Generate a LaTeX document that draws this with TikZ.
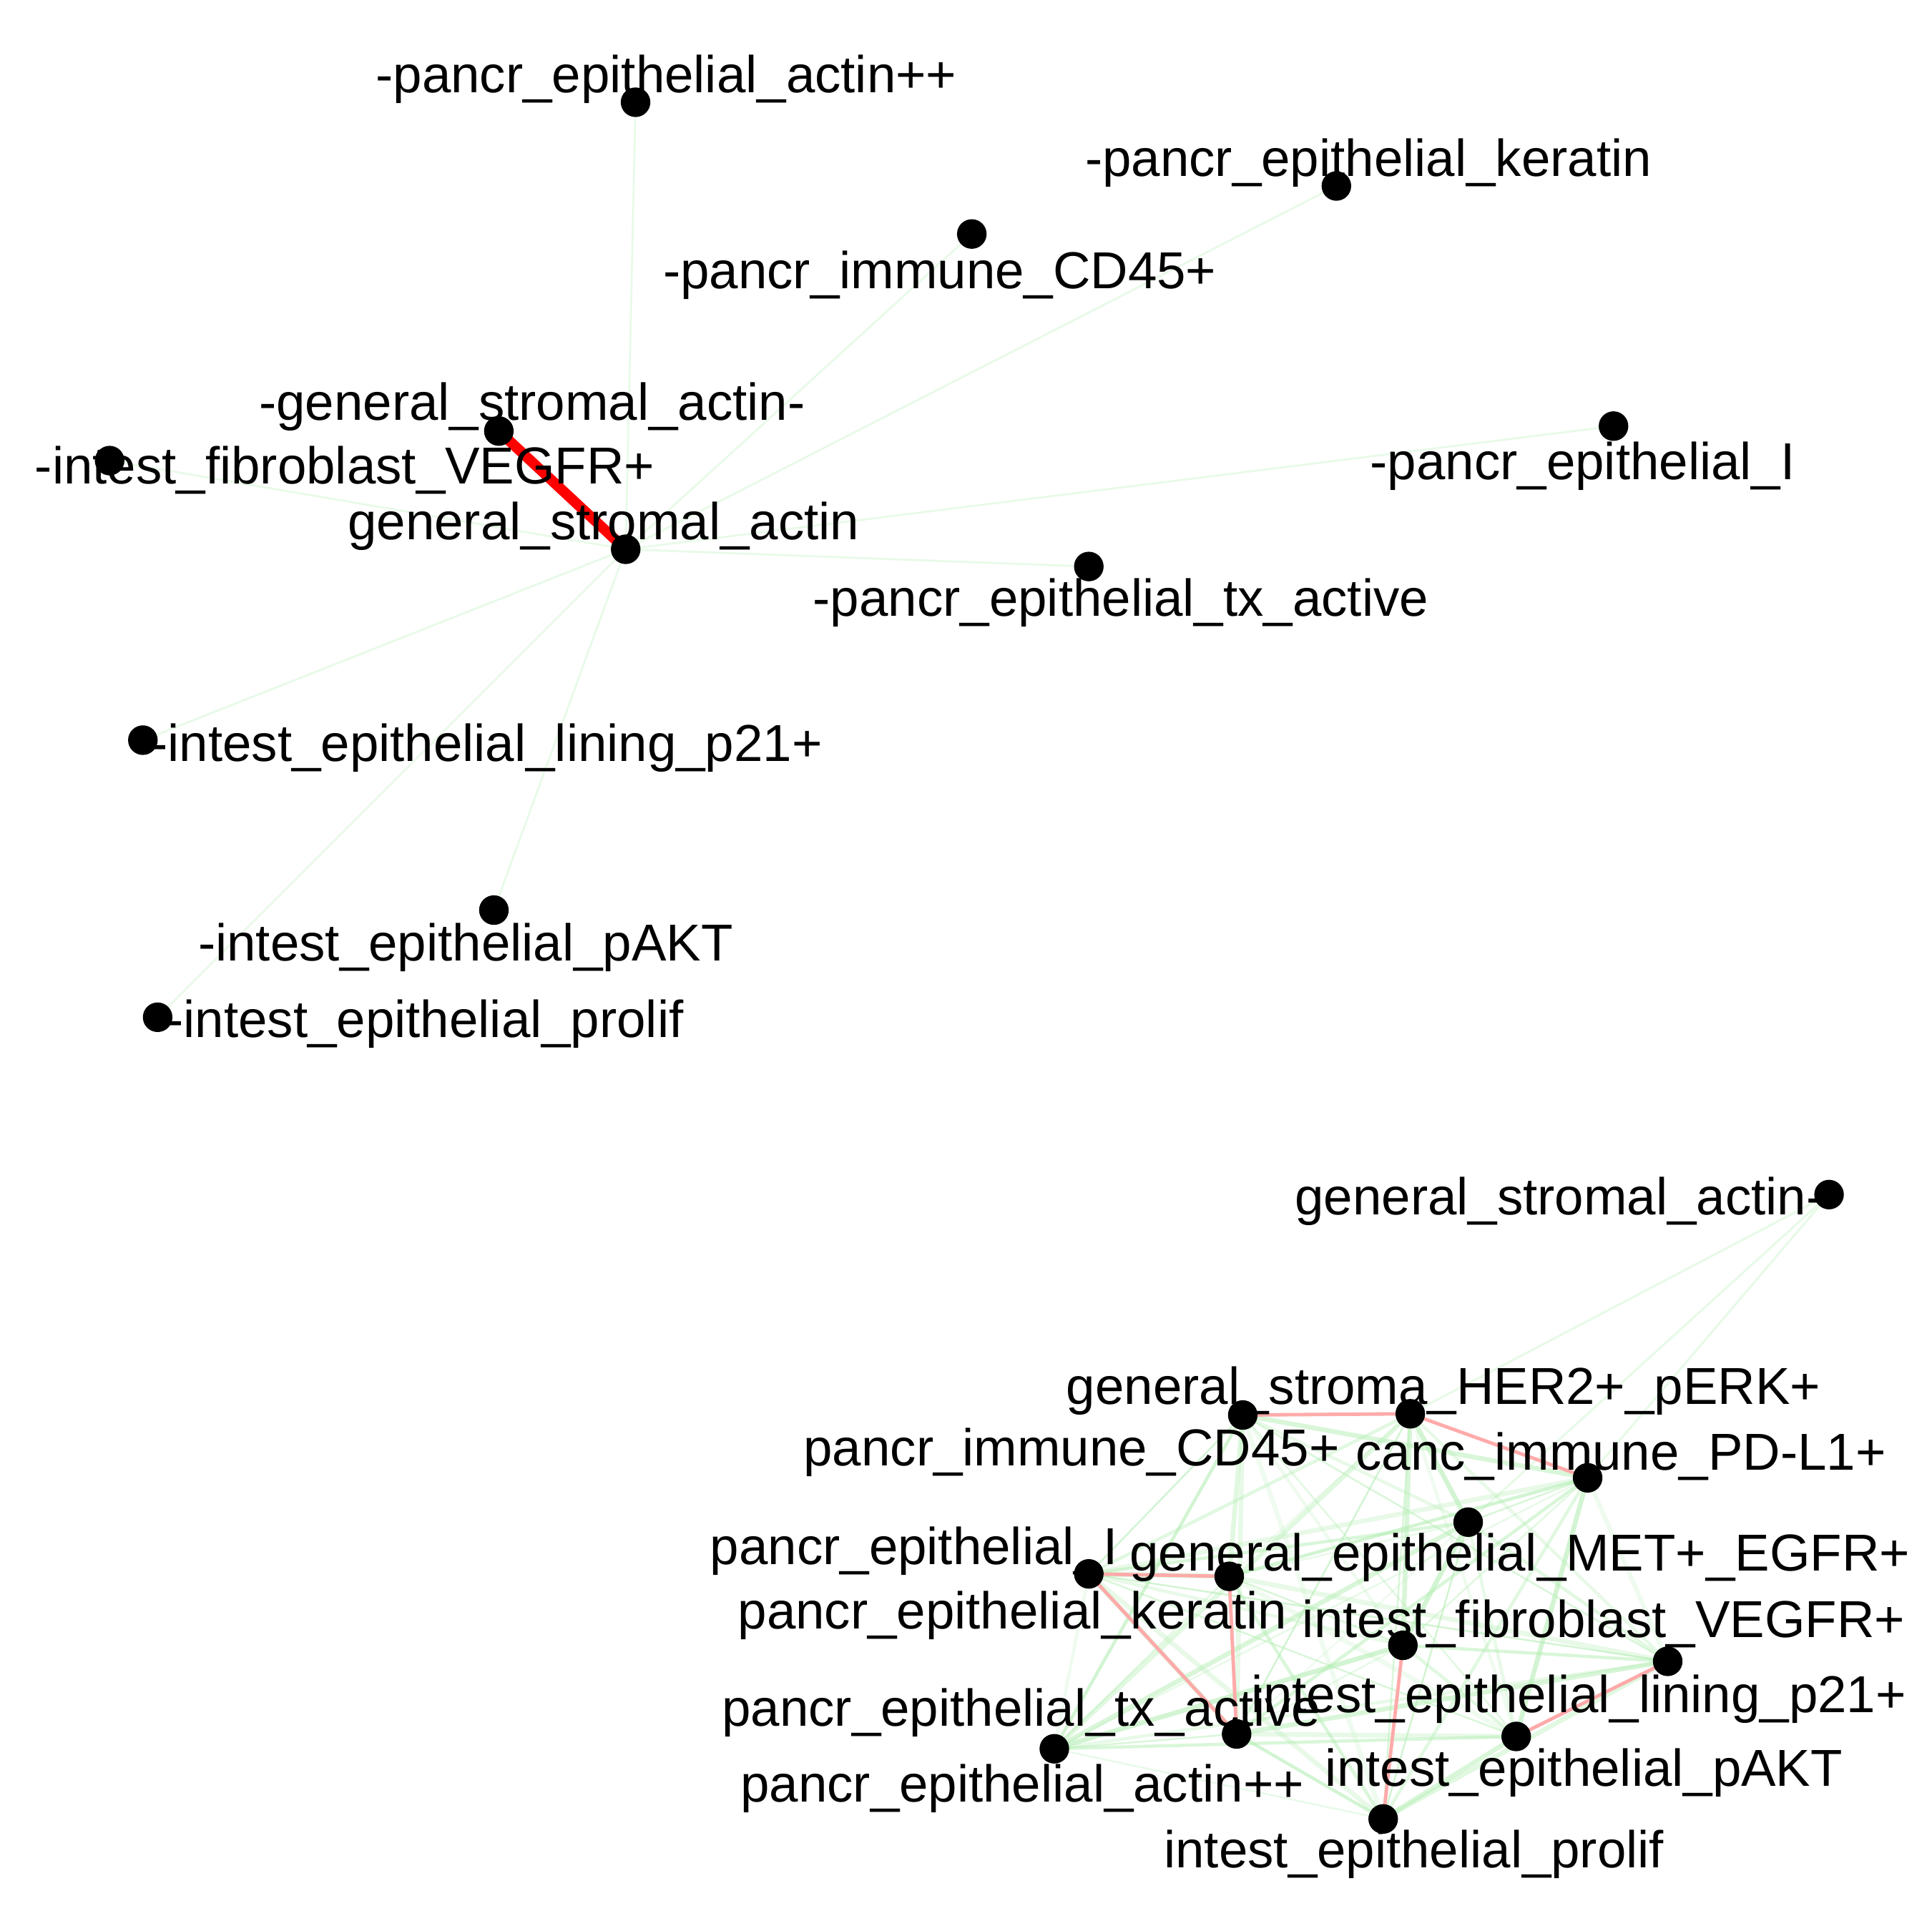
\documentclass[tikz,border=0pt]{standalone}
\usepackage{fontspec}
\setmainfont{Liberation Sans}
\pgfdeclarelayer{bg}
\pgfdeclarelayer{edges}
\pgfsetlayers{bg,edges,main}
\begin{document}
\begin{tikzpicture}[x=0.01cm,y=-0.01cm,
  dot/.style={circle,fill=black,draw=none,minimum size=0.24cm,inner sep=0pt},
  lbl/.style={inner sep=0pt,font=\fontsize{12}{14}\selectfont,yshift=-0.025cm},
  gtop/.style={draw=gtopc,line width=0.016cm},
  gbot/.style={draw=gbotc,line width=0.022cm},
  redthick/.style={draw=red,line width=0.085cm},
  redthin/.style={draw=redlight,line width=0.028cm}]
\definecolor{gtopc}{RGB}{232,250,232}
\definecolor{gbotc}{RGB}{180,238,180}
\definecolor{redlight}{RGB}{255,170,170}
\useasboundingbox (0,0) rectangle (1568,1568);
\begin{pgfonlayer}{bg}
\fill[white] (0,0) rectangle (1568,1568);
\end{pgfonlayer}

% ---------- top graph: dots ----------
\node[dot] (A1) at (516,83) {};
\node[dot] (A2) at (1085,151) {};
\node[dot] (A3) at (789,190) {};
\node[dot] (A4) at (405,350) {};
\node[dot] (A5) at (89,374) {};
\node[dot] (A6) at (508,446) {};
\node[dot] (A7) at (1310,346) {};
\node[dot] (A8) at (884,460) {};
\node[dot] (A9) at (116,601) {};
\node[dot] (A10) at (401,739) {};
\node[dot] (A11) at (128,826) {};

% ---------- bottom graph: dots ----------
\node[dot] (B1) at (1485,970) {};
\node[dot] (B2) at (1145,1148) {};
\node[dot] (B3) at (1009,1149) {};
\node[dot] (B4) at (1289,1200) {};
\node[dot] (B5) at (1192,1236) {};
\node[dot] (B6) at (884,1278) {};
\node[dot] (B7) at (998,1280) {};
\node[dot] (B8) at (1139,1336) {};
\node[dot] (B9) at (1354,1349) {};
\node[dot] (B10) at (1004,1408) {};
\node[dot] (B11) at (856,1420) {};
\node[dot] (B12) at (1231,1410) {};
\node[dot] (B13) at (1123,1477) {};

% ---------- labels ----------
\node[lbl] (A1l) at (541,62) {-pancr\_epithelial\_actin++};
\node[lbl] (A2l) at (1111,130) {-pancr\_epithelial\_keratin};
\node[lbl] (A3l) at (763,221) {-pancr\_immune\_CD45+};
\node[lbl] (A4l) at (432,328) {-general\_stromal\_actin-};
\node[lbl] (A5l) at (280,379) {-intest\_fibroblast\_VEGFR+};
\node[lbl] (A6l) at (490,425) {general\_stromal\_actin};
\node[lbl] (A7l) at (1285,376) {-pancr\_epithelial\_I};
\node[lbl] (A8l) at (910,487) {-pancr\_epithelial\_tx\_active};
\node[lbl] (A9l) at (395,605) {-intest\_epithelial\_lining\_p21+};
\node[lbl] (A10l) at (378,767) {-intest\_epithelial\_pAKT};
\node[lbl] (A11l) at (345,829) {-intest\_epithelial\_prolif};

\node[lbl] (B1l) at (1266,973) {general\_stromal\_actin-};
\node[lbl] (B2l) at (1172,1127) {general\_stroma\_HER2+\_pERK+};
\node[lbl] (B3l) at (870,1177) {pancr\_immune\_CD45+};
\node[lbl] (B4l) at (1316,1180) {canc\_immune\_PD-L1+};
\node[lbl] (B5l) at (1234,1262) {general\_epithelial\_MET+\_EGFR+};
\node[lbl] (B6l) at (742,1257) {pancr\_epithelial\_I};
\node[lbl] (B7l) at (822,1309) {pancr\_epithelial\_keratin};
\node[lbl] (B8l) at (1302,1316) {intest\_fibroblast\_VEGFR+};
\node[lbl] (B9l) at (1282,1377) {intest\_epithelial\_lining\_p21+};
\node[lbl] (B10l) at (829,1388) {pancr\_epithelial\_tx\_active};
\node[lbl] (B11l) at (830,1450) {pancr\_epithelial\_actin++};
\node[lbl] (B12l) at (1286,1437) {intest\_epithelial\_pAKT};
\node[lbl] (B13l) at (1148,1503) {intest\_epithelial\_prolif};

% ---------- edges (behind dots) ----------
\begin{pgfonlayer}{edges}
  % top star
  \foreach \t in {A1,A2,A3,A5,A7,A8,A9,A10,A11}
    \draw[gtop] (A6.center) -- (\t.center);
  \draw[redthick] (A4.center) -- (A6.center);
  % bottom: general_stromal_actin- links
  \foreach \t in {B2,B4,B5}
    \draw[gtop,line width=0.018cm] (B1.center) -- (\t.center);
  % bottom mesh
  \foreach \i in {2,...,12}{
    \pgfmathtruncatemacro{\s}{\i+1}
    \foreach \j in {\s,...,13}{
      \pgfmathsetmacro{\op}{0.2+0.4*mod(\i*7+\j*3,5)/4}
      \pgfmathsetmacro{\lw}{0.014+0.012*mod(\i*5+\j*2,3)}
      \draw[gbot,opacity=\op,line width=\lw cm] (B\i.center) -- (B\j.center);
    }
  }
  \draw[redthin] (B3.center) -- (B2.center);
  \draw[redthin] (B2.center) -- (B4.center);
  \draw[redthin] (B6.center) -- (B7.center);
  \draw[redthin] (B6.center) -- (B10.center);
  \draw[redthin] (B7.center) -- (B10.center);
  \draw[redthin] (B8.center) -- (B13.center);
  \draw[redthin] (B9.center) -- (B12.center);
\end{pgfonlayer}
\end{tikzpicture}
\end{document}
